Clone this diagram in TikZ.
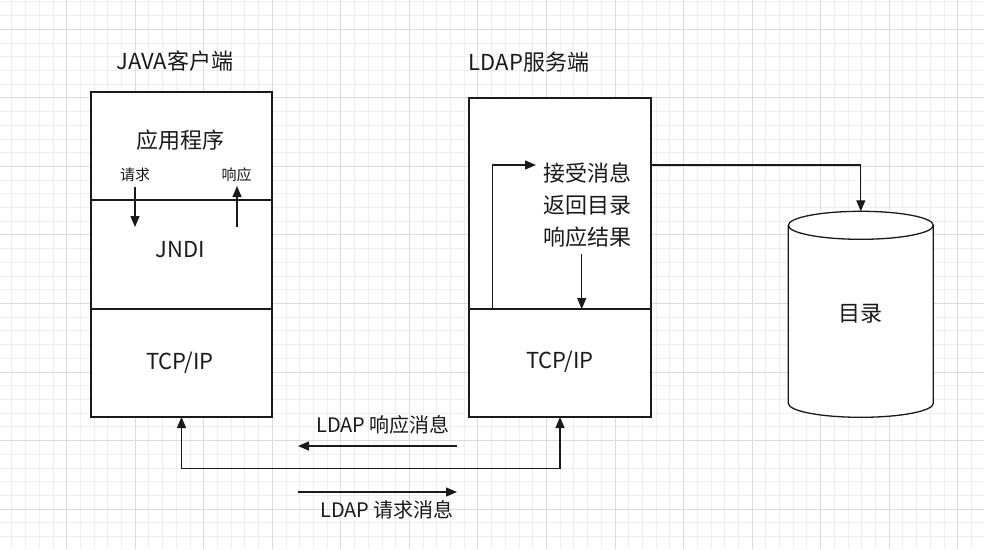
\documentclass[tikz,border=0pt]{standalone}
\usepackage{fontspec}
\setmainfont{Noto Sans CJK SC}
\usepackage{xcolor}
\usepackage{tikz}
\usetikzlibrary{arrows.meta}
\usetikzlibrary{positioning}

\definecolor{gridminor}{HTML}{EFEFEF}
\definecolor{gridmajor}{HTML}{DCDCDC}
\definecolor{ink}{HTML}{1A1A1A}

\tikzset{
  layer/.style={draw=ink, line width=1.3pt, fill=white, inner sep=0pt, outer sep=0pt},
  link/.style={draw=ink, line width=1.3pt, -{Triangle[length=11pt,width=9pt]}},
  bigtxt/.style={font=\fontsize{22}{26}\selectfont, text=ink, inner sep=0pt},
  midtxt/.style={font=\fontsize{20}{24}\selectfont, text=ink, inner sep=0pt},
  smalltxt/.style={font=\fontsize{15}{18}\selectfont, text=ink, inner sep=0pt},
}

\begin{document}
\begin{tikzpicture}[x=1pt, y=-1pt]
        \useasboundingbox (0,0) rectangle (984,549);
        \fill[white] (0,0) rectangle (984,549);

        % Griglia
        \foreach \k in {0,...,71}
            \draw[gridminor, line width=0.9pt] ({11.86+13.708*\k},0) -- ({11.86+13.708*\k},549);
        \foreach \k in {0,...,39}
            \draw[gridminor, line width=0.9pt] (0,{1.88+13.708*\k}) -- (984,{1.88+13.708*\k});
        \foreach \k in {0,...,13}
            \draw[gridmajor, line width=0.9pt] ({66.7+68.54*\k},0) -- ({66.7+68.54*\k},549);
        \foreach \k in {0,...,7}
            \draw[gridmajor, line width=0.9pt] (0,{29.3+68.54*\k}) -- (984,{29.3+68.54*\k});

        % Client
        \node[bigtxt] (client) at (175,61) {JAVA客户端};
        \node[layer, minimum width=181pt, minimum height=108pt] (capp) at (181.5,146) {};
        \node[layer, minimum width=181pt, minimum height=109pt] (cjndi) at (181.5,254.5) {};
        \node[layer, minimum width=181pt, minimum height=108pt] (ctcp) at (181.5,363) {};
        \node[bigtxt] (apptxt) at (180,140) {应用程序};
        \node[bigtxt] (jndi) at (180,250) {JNDI};
        \node[bigtxt] (ctcptxt) at (180,363) {TCP/IP};
        \node[smalltxt] (req) at (135,175) {请求};
        \node[smalltxt] (resp) at (236.7,175) {响应};
        \coordinate (reqtop) at (135,187);
        \coordinate (reqbot) at (135,227);
        \coordinate (respbot) at (237,227);
        \coordinate (resptop) at (237,186);
        \draw[link] (reqtop) -- (reqbot);
        \draw[link] (respbot) -- (resptop);

        % Server
        \node[bigtxt] (server) at (529,62) {LDAP服务端};
        \node[layer, minimum width=182pt, minimum height=211pt] (sup) at (560,203.5) {};
        \node[layer, minimum width=182pt, minimum height=108pt] (stcp) at (560,363) {};
        \node[bigtxt] (stcptxt) at (560,362) {TCP/IP};
        \node[bigtxt, align=center, font=\fontsize{22}{31.7}\selectfont] (steps) at (587,205)
            {接受消息\\返回目录\\响应结果};
        \coordinate (loopfoot) at (492.3,309);
        \coordinate (loophead) at (536,165);
        \draw[link] (loopfoot) |- (loophead);
        \coordinate (outtop) at (581.7,254);
        \coordinate (outbot) at (581.7,309);
        \draw[link] (outtop) -- (outbot);

        % Directory
        \draw[layer] (788.3,225.3) -- (788.3,403.3)
            arc[start angle=180, end angle=0, x radius=72.5, y radius=14]
            -- (933.3,225.3)
            arc[start angle=0, end angle=-180, x radius=72.5, y radius=14] -- cycle;
        \draw[layer, fill=none] (788.3,225.3) arc[start angle=180, end angle=0, x radius=72.5, y radius=14];
        \node[bigtxt] (dir) at (860.8,314) {目录};
        \coordinate (tap) at (651,165);
        \coordinate (dirtop) at (860.8,211.3);
        \draw[link] (tap) -| (dirtop);

        % Messaggi LDAP
        \draw[link, {Triangle[length=11pt,width=9pt]}-{Triangle[length=11pt,width=9pt]}]
            (ctcp.south) -- ++(0,51.5) -| (stcp.south);
        \node[midtxt] (resmsg) at (383,425) {LDAP 响应消息};
        \coordinate (resR) at (457,446);
        \coordinate (resL) at (298,446);
        \draw[link] (resR) -- (resL);
        \coordinate (reqL) at (298,492);
        \coordinate (reqR) at (457,492);
        \draw[link] (reqL) -- (reqR);
        \node[midtxt] (reqmsg) at (387,510) {LDAP 请求消息};
    \end{tikzpicture}
\end{document}
